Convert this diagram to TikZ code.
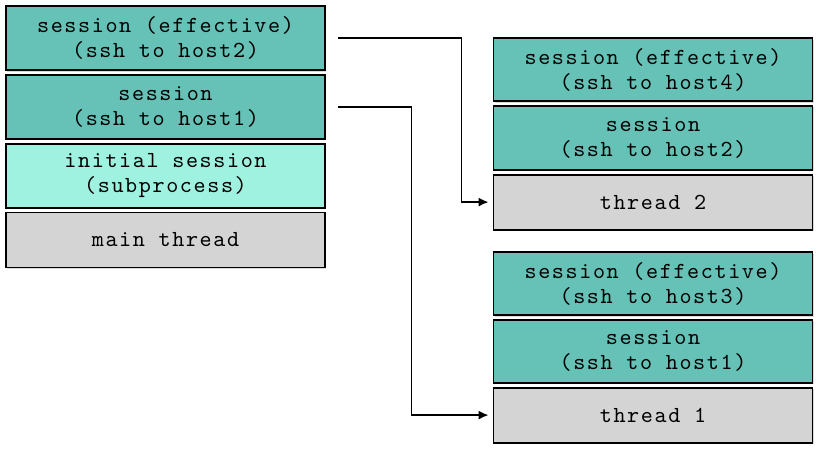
\documentclass[tikz,border=0pt]{standalone}
\usepackage{fontspec}
\usepackage{xcolor}
\usepackage{tikz}
\usetikzlibrary{arrows.meta,positioning,shadows}
\newfontfamily\boxfont[LetterSpace=7, Extension=.otf]{lmmono10-regular}
\definecolor{sessteal}{HTML}{66C2B6}
\definecolor{initaqua}{HTML}{A0F2E0}
\definecolor{thrgray}{HTML}{D4D4D4}

\begin{document}
\begin{tikzpicture}[
    x=1pt, y=-1pt,
    box/.style={draw, line width=1.8pt, minimum width=319pt,
                minimum height=64pt, align=center,
                font=\fontsize{23}{25}\boxfont,
                drop shadow={shadow xshift=1.2pt, shadow yshift=-1.5pt, opacity=0.3}},
    sess/.style={box, fill=sessteal},
    init/.style={box, fill=initaqua},
    thrd/.style={box, fill=thrgray, minimum height=55pt},
    arr/.style={-{Latex[length=10pt,width=9pt]}, line width=1.7pt},
    node distance=3pt
  ]
  \useasboundingbox (0,0) rectangle (821,455);

  % Left stack: main thread
  \node[sess] (effmain) at (165.5,38) {session (effective)\\(ssh to host2)};
  \node[sess, below=of effmain] (sesmain) {session\\(ssh to host1)};
  \node[init, below=of sesmain] (initial) {initial session\\(subprocess)};
  \node[thrd, below=of initial] (mainthr) {main thread};

  % Right stack: thread 2
  \node[sess, minimum height=63pt] (eff2) at (653,69.5) {session (effective)\\(ssh to host4)};
  \node[sess, below=of eff2] (ses2) {session\\(ssh to host2)};
  \node[thrd, below=of ses2] (thr2) {thread 2};

  % Right stack: thread 1
  \node[sess, minimum height=63pt] (eff1) at (653,283.5) {session (effective)\\(ssh to host3)};
  \node[sess, minimum height=63pt, below=of eff1] (ses1) {session\\(ssh to host1)};
  \node[thrd, below=of ses1] (thr1) {thread 1};

  % Arrows
  \coordinate (from2) at ([xshift=12pt]effmain.east);
  \coordinate (from1) at ([xshift=12pt]sesmain.east);
  \draw[arr] (from2) -| ([xshift=-31pt]thr2.west) -- ([xshift=-4pt]thr2.west);
  \draw[arr] (from1) -| ([xshift=-81pt]thr1.west) -- ([xshift=-4pt]thr1.west);
\end{tikzpicture}
\end{document}
